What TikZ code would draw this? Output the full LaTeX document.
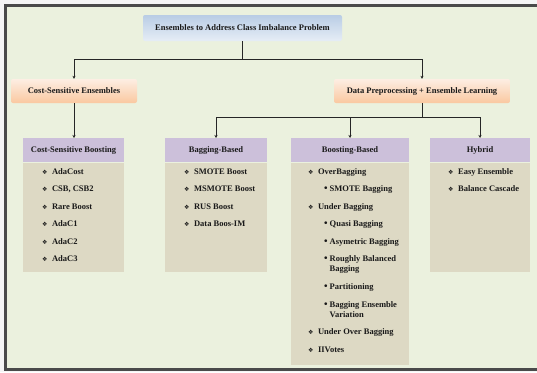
\documentclass[tikz,border=0pt]{standalone}
\usepackage{fontspec}
\setmainfont{Liberation Serif}
\newfontfamily\dingfont{DejaVu Sans}
\usetikzlibrary{arrows.meta}
\usetikzlibrary{positioning}

\definecolor{paper}{HTML}{EBF1DE}
\definecolor{framegray}{HTML}{4A4A4A}
\definecolor{rootblue}{HTML}{B9CDE5}
\definecolor{rootpale}{HTML}{E6EDF6}
\definecolor{peachpale}{HTML}{FDEEE3}
\definecolor{peach}{HTML}{FAC8A0}
\definecolor{headpurple}{HTML}{CCC0DA}
\definecolor{bodytan}{HTML}{DDD9C4}
\definecolor{linegray}{HTML}{262626}

\newcommand{\dia}{{\dingfont\fontsize{6}{6}\selectfont\char"2756}\hspace{4.5pt}}
\newcommand{\sbul}{{\fontsize{10}{10}\selectfont\textbullet}\hspace{2pt}}

\begin{document}
\begin{tikzpicture}[
        x=1pt,y=-1pt,
        every node/.style={font=\fontsize{8.5}{10}\selectfont\bfseries,text=black!90},
        arrow/.style={-{Stealth[length=3pt,width=3pt]},draw=linegray,line width=0.9pt},
        link/.style={draw=linegray,line width=0.9pt},
        rootbox/.style={rounded corners=2pt,top color=rootblue,bottom color=rootpale,
            minimum width=199pt,minimum height=26pt},
        groupbox/.style={rounded corners=2pt,top color=peachpale,bottom color=peach,
            minimum height=24pt},
        head/.style={fill=headpurple,minimum height=24pt,inner sep=0pt,anchor=north},
        body/.style={fill=bodytan,inner sep=0pt,anchor=north},
        item/.style={anchor=base west,inner sep=0pt,align=left},
    ]
        % page and frame
        \useasboundingbox (0,0) rectangle (537,372);
        \clip (0,0) rectangle (537,372);
        \fill[white!96!black] (0,0) rectangle (537,372);
        \draw[draw=framegray,line width=3pt,fill=paper] (5.5,5.5) rectangle (560,369.5);

        % top levels
        \node (root) at (242.5,28) [rootbox] {Ensembles to Address Class Imbalance Problem};
        \node (cse)  at (74,91)    [groupbox,minimum width=126pt] {Cost-Sensitive Ensembles};
        \node (dpe)  at (422,91)   [groupbox,minimum width=176pt] {Data Preprocessing + Ensemble Learning};

        \coordinate (split top) at (242.5,59);
        \draw[link]  (root) -- (split top);
        \draw[arrow] (split top) -| (cse);
        \draw[arrow] (split top) -| (dpe);

        % boxes
        \node (csb head)   at (73.5,138) [head,minimum width=101pt] {Cost-Sensitive Boosting};
        \node (csb body)   at (csb head.south) [body,minimum width=101pt,minimum height=109pt] {};
        \node (bag head)   at (216,138)  [head,minimum width=102pt] {Bagging-Based};
        \node (bag body)   at (bag head.south) [body,minimum width=102pt,minimum height=109pt] {};
        \node (boost head) at (350,138)  [head,minimum width=118pt] {Boosting-Based};
        \node (boost body) at (boost head.south) [body,minimum width=118pt,minimum height=202pt] {};
        \node (hyb head)   at (480,138)  [head,minimum width=100pt] {Hybrid};
        \node (hyb body)   at (hyb head.south) [body,minimum width=100pt,minimum height=109pt] {};

        \draw[arrow] (cse.south) -- (cse.south |- csb head.north);

        \coordinate (split low) at (422,117);
        \draw[link]  (dpe) -- (split low);
        \draw[arrow] (split low) -| (bag head);
        \draw[arrow] (split low) -| (boost head);
        \draw[arrow] (split low) -| (hyb head);

        % cost-sensitive boosting
        \node (csb a) at (42,174) [item] {\dia AdaCost};
        \node (csb b) at (42,191) [item] {\dia CSB, CSB2};
        \node (csb c) at (42,209) [item] {\dia Rare Boost};
        \node (csb d) at (42,226) [item] {\dia AdaC1};
        \node (csb e) at (42,244) [item] {\dia AdaC2};
        \node (csb f) at (42,261) [item] {\dia AdaC3};

        % bagging-based
        \node (bag a) at (184,174) [item] {\dia SMOTE Boost};
        \node (bag b) at (184,191) [item] {\dia MSMOTE Boost};
        \node (bag c) at (184,209) [item] {\dia RUS Boost};
        \node (bag d) at (184,226) [item] {\dia Data Boos-IM};

        % boosting-based
        \node (boost a) at (308,174) [item] {\dia OverBagging};
        \node (boost b) at (324,191) [item] {\sbul SMOTE Bagging};
        \node (boost c) at (308,209) [item] {\dia Under Bagging};
        \node (boost d) at (324,226) [item] {\sbul Quasi Bagging};
        \node (boost e) at (324,244) [item] {\sbul Asymetric Bagging};
        \node (boost f) at (324,261) [item] {\sbul\parbox[t]{75pt}{Roughly Balanced\\Bagging}};
        \node (boost g) at (324,289) [item] {\sbul Partitioning};
        \node (boost h) at (324,307) [item] {\sbul\parbox[t]{75pt}{Bagging Ensemble\\Variation}};
        \node (boost i) at (308,334) [item] {\dia Under Over Bagging};
        \node (boost j) at (308,352) [item] {\dia IIVotes};

        % hybrid
        \node (hyb a) at (448,174) [item] {\dia Easy Ensemble};
        \node (hyb b) at (448,191) [item] {\dia Balance Cascade};
    \end{tikzpicture}
\end{document}
